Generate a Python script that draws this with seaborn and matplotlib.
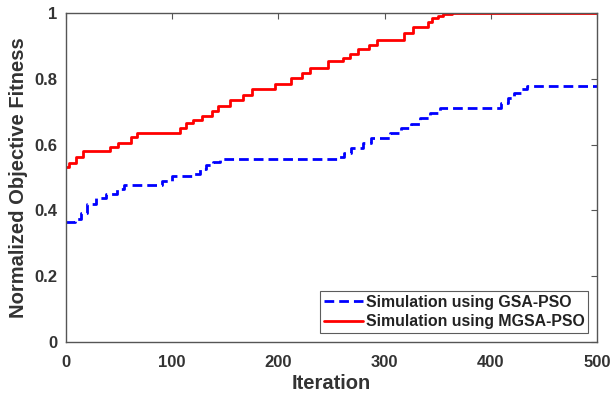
import matplotlib
matplotlib.use("Agg")
import matplotlib.pyplot as plt
import seaborn as sns
import numpy as np
import pandas as pd

# Step change points (iteration, value)
gsa_iter = [0, 8, 14, 20, 28, 38, 48, 55, 90, 100, 120, 126, 132, 138, 145,
            256, 262, 268, 280, 287, 305, 315, 325, 333, 343, 352, 410, 416, 422, 428, 434, 500]
gsa_val = [0.366, 0.375, 0.392, 0.421, 0.437, 0.450, 0.464, 0.478, 0.490, 0.505, 0.512, 0.525, 0.537, 0.548, 0.555,
           0.562, 0.575, 0.589, 0.604, 0.621, 0.634, 0.650, 0.663, 0.680, 0.695, 0.713, 0.727, 0.742, 0.758, 0.770, 0.779, 0.779]

mgsa_iter = [0, 3, 9, 16, 41, 49, 61, 67, 107, 113, 120, 128, 137, 143, 154, 167, 175,
             197, 212, 222, 230, 247, 261, 267, 275, 285, 293, 318, 327, 341, 345, 350, 355, 363, 500]
mgsa_val = [0.533, 0.543, 0.563, 0.580, 0.594, 0.604, 0.624, 0.637, 0.650, 0.665, 0.675, 0.687, 0.702, 0.717, 0.736, 0.751, 0.769,
            0.783, 0.803, 0.819, 0.834, 0.854, 0.865, 0.877, 0.890, 0.903, 0.918, 0.939, 0.957, 0.974, 0.985, 0.992, 0.997, 1.0, 1.0]

gsa = pd.DataFrame({"Iteration": gsa_iter, "Fitness": gsa_val})
mgsa = pd.DataFrame({"Iteration": mgsa_iter, "Fitness": mgsa_val})

sns.set_theme(style="white")
plt.rcParams['font.family'] = ['Liberation Sans', 'DejaVu Sans']

fig = plt.figure(figsize=(6.13, 3.98), dpi=100)
ax = fig.add_axes([0.1077, 0.1407, 0.9739 - 0.1077, 0.967 - 0.1407])

sns.lineplot(data=gsa, x="Iteration", y="Fitness", ax=ax, color="#0000ff", lw=2.0,
             drawstyle="steps-post", label="Simulation using GSA-PSO")
ax.lines[-1].set_dashes([3.5, 1.8])
sns.lineplot(data=mgsa, x="Iteration", y="Fitness", ax=ax, color="#ff0000", lw=2.0,
             drawstyle="steps-post", label="Simulation using MGSA-PSO")

ax.set_xlim(0, 500)
ax.set_ylim(0, 1)
ax.set_xticks([0, 100, 200, 300, 400, 500])
ax.set_yticks([0, 0.2, 0.4, 0.6, 0.8, 1.0])
ax.set_yticklabels(["0", "0.2", "0.4", "0.6", "0.8", "1"])
for s in ax.spines.values():
    s.set_visible(True)
    s.set_color("#555555")
    s.set_linewidth(1.0)
ax.tick_params(direction="in", length=4, width=0.8, color="#555555", top=True, right=True,
               labelsize=12, labelcolor="#333333")
ax.tick_params(axis="x", pad=9)
ax.tick_params(axis="y", pad=6)
for lbl in ax.get_xticklabels() + ax.get_yticklabels():
    lbl.set_fontweight("bold")
ax.set_xlabel("Iteration", fontsize=14.5, fontweight="bold", color="#333333", labelpad=3)
ax.set_ylabel("Normalized Objective Fitness", fontsize=14.5, fontweight="bold", color="#333333", labelpad=5)

leg = ax.legend(loc="lower right", prop={"weight": "bold", "size": 11.4}, frameon=True,
                fancybox=False, edgecolor="#333333", handlelength=2.5, handletextpad=0.15,
                borderpad=0.25, labelspacing=0.28, borderaxespad=0.55)
leg.get_frame().set_linewidth(0.8)
for t in leg.get_texts():
    t.set_color("#222222")

fig.savefig("out.png", dpi=100)
